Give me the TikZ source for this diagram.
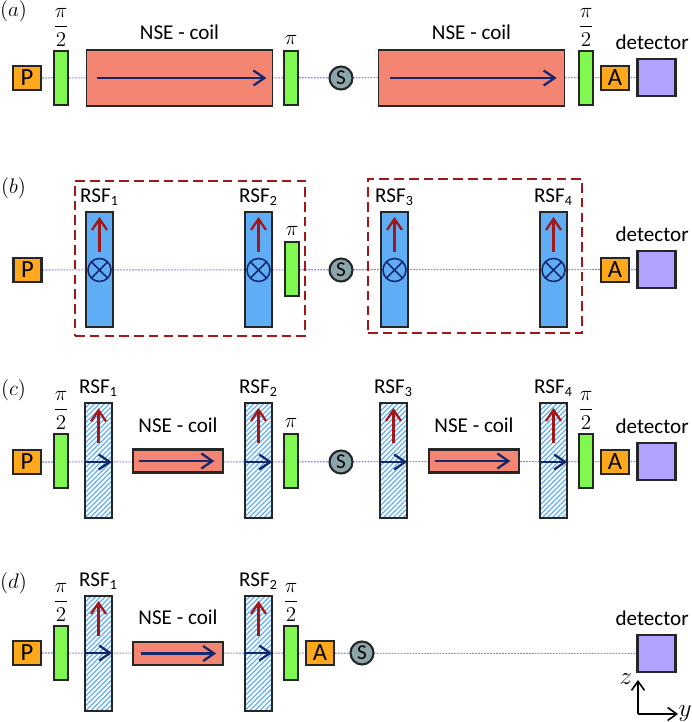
\documentclass[tikz,border=0pt]{standalone}
\usepackage{fontspec}
\setmainfont{Carlito}
\usepackage{amsmath}
\usetikzlibrary{arrows.meta, positioning, backgrounds, patterns.meta}
\definecolor{Polar}{HTML}{FFA81C}
\definecolor{Flip}{HTML}{80F850}
\definecolor{Coil}{HTML}{F58573}
\definecolor{Sample}{HTML}{8AA6AB}
\definecolor{Detect}{HTML}{B3A2FF}
\definecolor{Rsf}{HTML}{5FAEF5}
\definecolor{DarkRed}{HTML}{A01818}
\definecolor{Navy}{HTML}{14286E}
\definecolor{Beam}{HTML}{8484EE}

\begin{document}
\begin{tikzpicture}[
    every node/.style={font=\fontsize{12}{14}\selectfont, inner sep=0pt},
    box/.style={draw=black!85, line width=1.2pt, minimum width=0.56cm, minimum height=0.48cm,
        fill=Polar, font=\fontsize{14}{16}\selectfont},
    flipper/.style={draw=black!85, line width=1.2pt, minimum width=0.28cm, minimum height=1.08cm,
        fill=Flip},
    bigcoil/.style={draw=black!85, line width=1.1pt, minimum width=3.72cm, minimum height=1.12cm,
        fill=Coil},
    smallcoil/.style={draw=black!85, line width=1.2pt, minimum width=1.8cm, minimum height=0.46cm,
        fill=Coil},
    rsfbox/.style={draw=black!85, line width=1.2pt, minimum width=0.54cm, minimum height=2.3cm,
        fill=Rsf},
    rsfhatch/.style={draw=black!85, line width=1.2pt, minimum width=0.54cm, minimum height=2.3cm,
        fill=white, pattern={Lines[angle=45, distance=2pt, line width=0.7pt]}, pattern color=Rsf},
    sample/.style={circle, draw=black!85, line width=1.2pt, minimum size=0.46cm, fill=Sample,
        font=\fontsize{12}{14}\selectfont},
    detbox/.style={draw=black!85, line width=1.2pt, minimum width=0.76cm, minimum height=0.74cm,
        fill=Detect},
    crossed/.style={circle, draw=Navy, line width=0.9pt, minimum size=0.46cm, fill=Rsf,
        path picture={
            \draw[Navy, line width=0.9pt] (path picture bounding box.north west) --
                (path picture bounding box.south east);
            \draw[Navy, line width=0.9pt] (path picture bounding box.north east) --
                (path picture bounding box.south west);
        }},
    dashbox/.style={draw=DarkRed, line width=1.4pt, dash pattern=on 5.5pt off 2.9pt},
    beam/.style={Beam, line width=0.6pt, dash pattern=on 1pt off 0.7pt},
    fieldarr/.style={-{Straight Barb[length=2.2mm, width=3mm]}, Navy, line width=1.3pt},
    rfarr/.style={-{Straight Barb[length=2.2mm, width=3mm]}, DarkRed, line width=1.3pt},
    axisarr/.style={-{Straight Barb[length=1.8mm, width=2.6mm]}, black, line width=0.9pt},
    halfpi/.style={font=\fontsize{13}{15}\selectfont},
    panel/.style={font=\fontsize{13}{15}\selectfont, anchor=center},
    axislabel/.style={font=\fontsize{15}{17}\selectfont, anchor=center},
    detlabel/.style={xshift=-2.5pt},
]
\useasboundingbox (0, 0) rectangle (13.84, 14.44);

% === Panel a ===
\node[panel] (tagA) at (0.27, 14.21) {$(a)$};

\node[box] (pa) at (0.54, 12.88) {P};
\node[flipper] (fa1) at (1.22, 12.88) {};
\node[bigcoil] (ca1) at (3.59, 12.88) {};
\node[flipper] (fa2) at (5.82, 12.88) {};
\node[sample] (sa) at (6.82, 12.88) {S};
\node[bigcoil] (ca2) at (9.43, 12.88) {};
\node[flipper] (fa3) at (11.72, 12.88) {};
\node[box] (aa) at (12.30, 12.88) {A};
\node[detbox] (da) at (13.13, 12.89) {};

\node[halfpi, above=2pt of fa1] {$\dfrac{\pi}{2}$};
\node[halfpi, above=3pt of fa2] {$\pi$};
\node[halfpi, above=2pt of fa3] {$\dfrac{\pi}{2}$};
\node[above=5pt of ca1] {NSE - coil};
\node[above=5pt of ca2] {NSE - coil};
\node[detlabel, above=4.3pt of da] {detector};

\draw[fieldarr] ([xshift=6.5pt]ca1.west) -- ([xshift=-4pt]ca1.east);
\draw[fieldarr] ([xshift=7pt]ca2.west) -- ([xshift=-5pt]ca2.east);

\begin{scope}[on background layer]
\draw[beam] (pa) -- (da);
\end{scope}

% === Panel b ===
\node[panel] (tagB) at (0.27, 10.68) {$(b)$};

\node[box] (pb) at (0.55, 9.04) {P};
\node[rsfbox] (rb1) at (1.99, 9.05) {};
\node[rsfbox] (rb2) at (5.17, 9.05) {};
\node[flipper] (fb1) at (5.84, 9.06) {};
\node[sample] (sb) at (6.82, 9.04) {S};
\node[rsfbox] (rb3) at (7.89, 9.05) {};
\node[rsfbox] (rb4) at (11.07, 9.05) {};
\node[box] (ab) at (12.30, 9.04) {A};
\node[detbox] (db) at (13.13, 9.05) {};

\node[above=3pt of rb1] {RSF\textsubscript{1}};
\node[above=3pt of rb2] {RSF\textsubscript{2}};
\node[above=3pt of rb3] {RSF\textsubscript{3}};
\node[above=3pt of rb4] {RSF\textsubscript{4}};
\node[halfpi, above=3pt of fb1] {$\pi$};
\node[detlabel, above=4.3pt of db] {detector};

\node[crossed] (xb1) at (1.99, 9.04) {};
\node[crossed] (xb2) at (5.17, 9.04) {};
\node[crossed] (xb3) at (7.89, 9.04) {};
\node[crossed] (xb4) at (11.07, 9.04) {};

\draw[rfarr] ([yshift=3pt]xb1.north) -- ([yshift=-3.4pt]rb1.north);
\draw[rfarr] ([yshift=3pt]xb2.north) -- ([yshift=-3.4pt]rb2.north);
\draw[rfarr] ([yshift=3pt]xb3.north) -- ([yshift=-3.4pt]rb3.north);
\draw[rfarr] ([yshift=3pt]xb4.north) -- ([yshift=-3.4pt]rb4.north);

\node[dashbox, minimum width=4.6cm, minimum height=3.1cm] (gb1) at (3.80, 9.27) {};
\node[dashbox, minimum width=4.28cm, minimum height=3.08cm] (gb2) at (9.50, 9.32) {};

\begin{scope}[on background layer]
\draw[beam] (pb) -- (db);
\end{scope}

% === Panel c ===
\node[panel] (tagC) at (0.27, 6.64) {$(c)$};

\node[box] (pc) at (0.54, 5.20) {P};
\node[flipper] (fc1) at (1.22, 5.22) {};
\node[rsfhatch] (rc1) at (1.97, 5.23) {};
\node[smallcoil] (cc1) at (3.56, 5.22) {};
\node[rsfhatch] (rc2) at (5.17, 5.23) {};
\node[flipper] (fc2) at (5.82, 5.22) {};
\node[sample] (sc) at (6.82, 5.20) {S};
\node[rsfhatch] (rc3) at (7.87, 5.23) {};
\node[smallcoil] (cc2) at (9.48, 5.22) {};
\node[rsfhatch] (rc4) at (11.07, 5.23) {};
\node[flipper] (fc3) at (11.72, 5.22) {};
\node[box] (ac) at (12.30, 5.20) {A};
\node[detbox] (dc) at (13.13, 5.21) {};

\node[above=3pt of rc1] {RSF\textsubscript{1}};
\node[above=3pt of rc2] {RSF\textsubscript{2}};
\node[above=3pt of rc3] {RSF\textsubscript{3}};
\node[above=3pt of rc4] {RSF\textsubscript{4}};
\node[above=9pt of cc1] {NSE - coil};
\node[above=9pt of cc2] {NSE - coil};
\node[halfpi, above=2pt of fc1] {$\dfrac{\pi}{2}$};
\node[halfpi, above=3pt of fc2] {$\pi$};
\node[halfpi, above=2pt of fc3] {$\dfrac{\pi}{2}$};
\node[detlabel, above=4.3pt of dc] {detector};

\draw[fieldarr] (rc1.west |- pc) -- ([xshift=-0.5pt]rc1.east |- pc);
\draw[fieldarr] (rc2.west |- pc) -- ([xshift=-0.5pt]rc2.east |- pc);
\draw[fieldarr] (rc3.west |- pc) -- ([xshift=-0.5pt]rc3.east |- pc);
\draw[fieldarr] (rc4.west |- pc) -- ([xshift=-0.5pt]rc4.east |- pc);
\draw[fieldarr] ([xshift=4pt]cc1.west) -- ([xshift=-5.5pt]cc1.east);
\draw[fieldarr] ([xshift=4pt]cc2.west) -- ([xshift=-5.5pt]cc2.east);
\draw[rfarr] ([yshift=-0.82cm]rc1.north) -- ([yshift=-3.4pt]rc1.north);
\draw[rfarr] ([yshift=-0.82cm]rc2.north) -- ([yshift=-3.4pt]rc2.north);
\draw[rfarr] ([yshift=-0.82cm]rc3.north) -- ([yshift=-3.4pt]rc3.north);
\draw[rfarr] ([yshift=-0.82cm]rc4.north) -- ([yshift=-3.4pt]rc4.north);

\begin{scope}[on background layer]
\draw[beam] (pc) -- (dc);
\end{scope}

% === Panel d ===
\node[panel] (tagD) at (0.27, 2.78) {$(d)$};

\node[box] (pd) at (0.54, 1.38) {P};
\node[flipper] (fd1) at (1.22, 1.38) {};
\node[rsfhatch] (rd1) at (1.97, 1.37) {};
\node[smallcoil] (cd1) at (3.56, 1.37) {};
\node[rsfhatch] (rd2) at (5.17, 1.37) {};
\node[flipper] (fd2) at (5.82, 1.38) {};
\node[box] (ad) at (6.40, 1.38) {A};
\node[sample] (sd) at (7.24, 1.38) {S};
\node[detbox] (dd) at (13.13, 1.37) {};

\node[above=3pt of rd1] {RSF\textsubscript{1}};
\node[above=3pt of rd2] {RSF\textsubscript{2}};
\node[above=9pt of cd1] {NSE - coil};
\node[halfpi, above=2pt of fd1] {$\dfrac{\pi}{2}$};
\node[halfpi, above=2pt of fd2] {$\dfrac{\pi}{2}$};
\node[detlabel, above=4.3pt of dd] {detector};

\draw[fieldarr] (rd1.west |- pd) -- ([xshift=-0.5pt]rd1.east |- pd);
\draw[fieldarr] (rd2.west |- pd) -- ([xshift=-0.5pt]rd2.east |- pd);
\draw[fieldarr] ([xshift=5pt]cd1.west) -- ([xshift=-4.5pt]cd1.east);
\draw[rfarr] ([yshift=-0.82cm]rd1.north) -- ([yshift=-3.4pt]rd1.north);
\draw[rfarr] ([yshift=-0.82cm]rd2.north) -- ([yshift=-3.4pt]rd2.north);

\begin{scope}[on background layer]
\draw[beam] (pd) -- (dd);
\end{scope}

% === Axes ===
\coordinate (orig) at (12.76, 0.16);
\coordinate (zend) at (12.76, 0.84);
\coordinate (yend) at (13.56, 0.16);
\draw[axisarr] (orig) -- (zend);
\draw[axisarr] (orig) -- (yend);
\node[axislabel] (zlab) at (12.52, 0.86) {$z$};
\node[axislabel] (ylab) at (13.70, 0.16) {$y$};

\end{tikzpicture}
\end{document}
